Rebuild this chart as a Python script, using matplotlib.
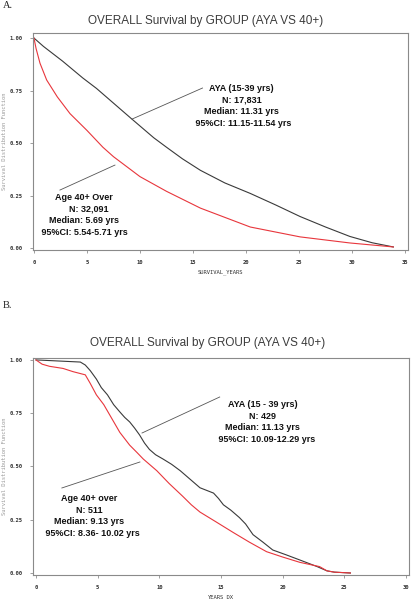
import matplotlib
matplotlib.use('Agg')
import matplotlib.pyplot as plt

# Panel A: survival (years, survival)
a_aya_t = [0, 0.9, 2.7, 4.6, 5.9, 7.5, 9.1, 11.3, 12.5, 14.0, 15.7, 18.0, 20.4, 22.8, 25.1,
           27.5, 29.8, 31.9, 33.9]
a_aya_s = [1.0, 0.96, 0.89, 0.81, 0.76, 0.69, 0.62, 0.525, 0.48, 0.425, 0.37, 0.31, 0.26,
           0.205, 0.15, 0.10, 0.055, 0.025, 0.005]
a_old_t = [0, 0.2, 0.57, 1.2, 2.2, 3.4, 5.0, 6.5, 7.5, 10.0, 12.5, 15.7, 20.4, 25.1, 29.8, 33.9]
a_old_s = [1.0, 0.95, 0.88, 0.80, 0.72, 0.64, 0.56, 0.48, 0.435, 0.34, 0.27, 0.19, 0.10, 0.053, 0.024, 0.005]

# Panel B
b_aya_t = [0, 3.6, 4.0, 4.4, 4.9, 5.3, 5.8, 6.3, 6.8, 7.2, 7.6, 8.0, 8.4, 8.8, 9.2, 9.7, 10.3,
           11.0, 11.7, 12.5, 13.3, 14.4, 14.8, 15.2, 15.8, 16.5, 17.0, 17.6, 18.4, 19.2, 20.3,
           21.4, 22.8, 23.6, 24.2, 25.5]
b_aya_s = [1.0, 0.99, 0.976, 0.95, 0.91, 0.87, 0.836, 0.79, 0.756, 0.73, 0.709, 0.68, 0.648,
           0.61, 0.58, 0.555, 0.535, 0.51, 0.48, 0.44, 0.40, 0.375, 0.35, 0.32, 0.295, 0.26,
           0.23, 0.18, 0.145, 0.108, 0.085, 0.061, 0.03, 0.01, 0.004, 0.0]
b_old_t = [0, 0.5, 1.1, 2.2, 3.0, 4.0, 4.4, 4.9, 5.5, 6.0, 6.4, 6.8, 7.2, 7.6, 8.2, 8.7, 9.2,
           9.8, 10.8, 11.9, 12.6, 13.3, 14.6, 16.0, 17.3, 18.7, 20.0, 21.4, 23.0, 23.6, 24.2, 25.5]
b_old_s = [1.0, 0.98, 0.97, 0.96, 0.945, 0.93, 0.89, 0.836, 0.79, 0.74, 0.70, 0.66, 0.63,
           0.60, 0.565, 0.535, 0.51, 0.48, 0.42, 0.36, 0.32, 0.286, 0.24, 0.19, 0.145, 0.10,
           0.075, 0.05, 0.03, 0.01, 0.004, 0.0]

y_ticks = [0.0, 0.25, 0.50, 0.75, 1.00]
y_labels = ['0.00', '0.25', '0.50', '0.75', '1.00']

W, H = 411, 600
fig = plt.figure(figsize=(W / 100, H / 100), dpi=100)

title = 'OVERALL Survival by GROUP (AYA VS 40+)'
title_font = ['Liberation Sans', 'DejaVu Sans']
note_font = ['Liberation Sans', 'DejaVu Sans']
tick_font = ['DejaVu Sans Mono']
BLACK = '#3a3a3a'
RED = '#e8363c'


def style_axes(ax, xmax, xlabel, xlim, ylim):
    ax.set_xlim(*xlim)
    ax.set_ylim(*ylim)
    ax.set_xticks(range(0, xmax + 1, 5))
    ax.set_xticklabels([str(v) for v in range(0, xmax + 1, 5)], fontsize=4,
                       family=tick_font, color='#333333', weight='bold')
    ax.set_yticks(y_ticks)
    ax.set_yticklabels(y_labels, fontsize=4, family=tick_font, color='#333333', weight='bold')
    ax.tick_params(length=2.5, width=0.5, color='#777777', pad=5)
    for sp in ax.spines.values():
        sp.set_color('#8a8a8a')
        sp.set_linewidth(0.8)
    ax.set_xlabel(xlabel, fontsize=4, family=tick_font, color='#333333', labelpad=3)
    ax.set_ylabel('Survival Distribution Function', fontsize=4, family=tick_font,
                  color='#999999', labelpad=2)


def note(ax, text, xy_text, xy_from, xy_to):
    ax.text(*xy_text, text, ha='center', va='center', fontsize=6.5, weight='bold',
            family=note_font, linespacing=1.35, multialignment='center', color='#111111')
    ax.plot([xy_from[0], xy_to[0]], [xy_from[1], xy_to[1]], color='#555555', lw=0.6)


# ---- Panel A ----
axA = fig.add_axes([33 / W, 1 - 250 / H, 375 / W, 217 / H])
axA.plot(a_aya_t, a_aya_s, color=BLACK, lw=0.8)
axA.plot(a_old_t, a_old_s, color=RED, lw=0.8)
style_axes(axA, 35, 'SURVIVAL_YEARS', (-0.09, 35.28), (-0.0095, 1.024))
note(axA, 'AYA (15-39 yrs)\nN: 17,831\nMedian: 11.31 yrs\n 95%CI: 11.15-11.54 yrs',
     (19.6, 0.676), (15.9, 0.762), (9.25, 0.614))
note(axA, 'Age 40+ Over\n    N: 32,091\nMedian: 5.69 yrs\n 95%CI: 5.54-5.71 yrs',
     (4.7, 0.157), (2.45, 0.276), (7.64, 0.395))

fig.text(88 / W, 1 - 21 / H, title, ha='left', va='center', fontsize=8.5,
         family=title_font, color='#3c3c3c')
fig.text(3 / W, 1 - 6 / H, 'A.', ha='left', va='center', fontsize=7.5,
         family='Liberation Serif', color='#222222')

# ---- Panel B ----
axB = fig.add_axes([33 / W, 1 - 575 / H, 376 / W, 217 / H])
axB.plot(b_aya_t, b_aya_s, color=BLACK, lw=0.8)
axB.plot(b_old_t, b_old_s, color=RED, lw=0.8)
style_axes(axB, 30, 'YEARS_DX', (-0.24, 30.25), (-0.0094, 1.009))
note(axB, 'AYA (15 - 39 yrs)\nN: 429\nMedian: 11.13 yrs\n   95%CI: 10.09-12.29 yrs',
     (18.4, 0.709), (14.9, 0.826), (8.6, 0.657))
note(axB, 'Age 40+ over\nN: 511\nMedian: 9.13 yrs\n   95%CI: 8.36- 10.02 yrs',
     (4.3, 0.268), (2.1, 0.399), (8.43, 0.521))

fig.text(90 / W, 1 - 343 / H, title, ha='left', va='center', fontsize=8.5,
         family=title_font, color='#3c3c3c')
fig.text(3 / W, 1 - 305 / H, 'B.', ha='left', va='center', fontsize=7.5,
         family='Liberation Serif', color='#222222')

fig.savefig('out.png', dpi=100)
